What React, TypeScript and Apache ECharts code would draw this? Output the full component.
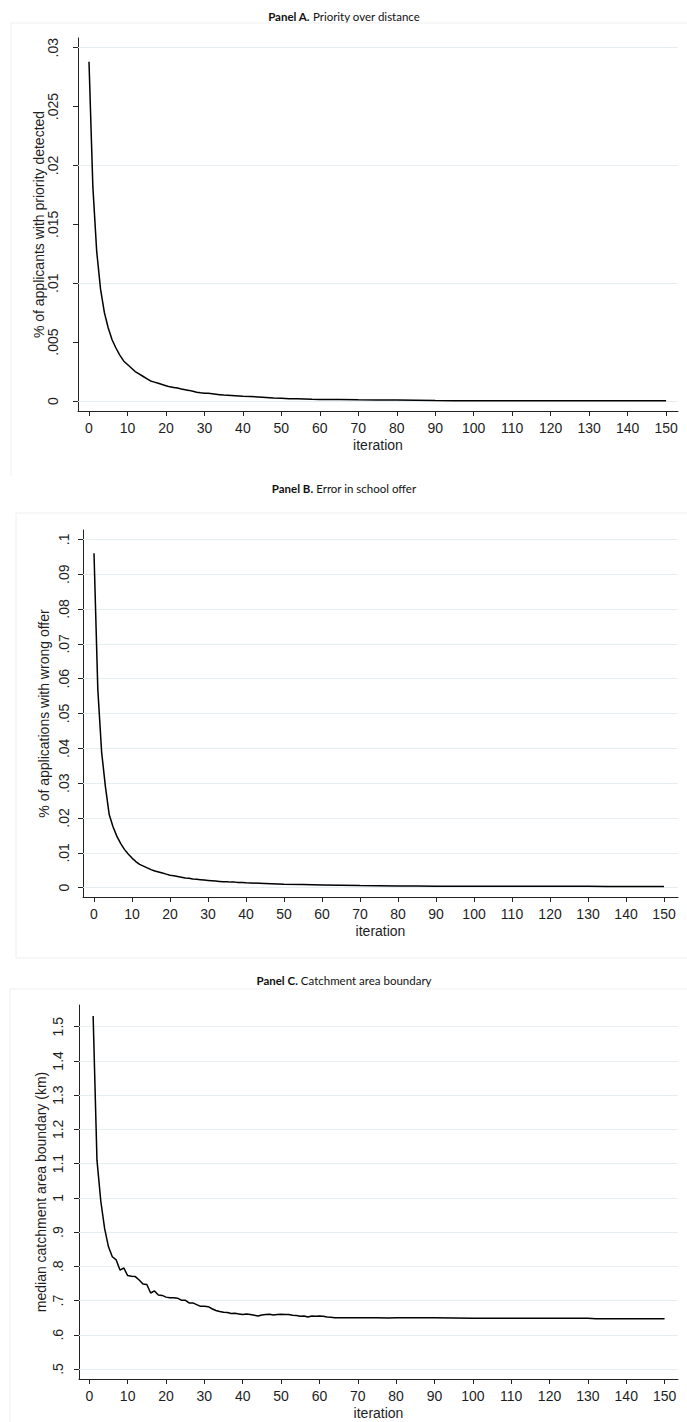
import React, { useEffect, useRef } from 'react';
import * as echarts from 'echarts';

// ---------- data ----------
const xTicks = [0, 10, 20, 30, 40, 50, 60, 70, 80, 90, 100, 110, 120, 130, 140, 150];

const yTicksA = [0, 0.005, 0.01, 0.015, 0.02, 0.025, 0.03];
const yTicksB = [0, 0.01, 0.02, 0.03, 0.04, 0.05, 0.06, 0.07, 0.08, 0.09, 0.1];
const yTicksC = [0.5, 0.6, 0.7, 0.8, 0.9, 1, 1.1, 1.2, 1.3, 1.4, 1.5];

const iterA = [
  0, 1, 2, 3, 4, 5, 6, 7, 8, 9, 10, 11, 12, 13, 14, 15, 16, 17, 18, 19, 20,
  21, 22, 23, 24, 25, 26, 27, 28, 29, 30, 31, 32, 33, 34, 35, 36, 37, 38, 39, 40,
  42, 44, 46, 48, 50, 52, 54, 56, 58, 60, 65, 70, 75, 80, 85, 90, 95, 100,
  105, 110, 115, 120, 125, 130, 135, 140, 145, 150,
];
const valA = [
  0.0288, 0.0182, 0.0127, 0.0095, 0.0075, 0.0062, 0.0052, 0.0045, 0.0039, 0.0034, 0.0031,
  0.0028, 0.0025, 0.0023, 0.0021, 0.0019, 0.0017, 0.0016, 0.0015, 0.0014, 0.0013,
  0.0012, 0.00115, 0.0011, 0.00102, 0.00096, 0.0009, 0.00082, 0.00074, 0.00069, 0.00066,
  0.00066, 0.00062, 0.00058, 0.00054, 0.0005, 0.00049, 0.00047, 0.00045, 0.00043, 0.00041,
  0.00038, 0.00034, 0.0003, 0.00026, 0.00023, 0.0002, 0.00018, 0.00016, 0.00014, 0.00013,
  0.00012, 0.0001, 0.00009, 0.00008, 0.00006, 0.00004, 0.00003, 0.00002,
  0.00002, 0.00002, 0.00001, 0.00001, 0.00001, 0.00001, 0.00001, 0.00001, 0.00001, 0.00001,
];

const iterB = [
  0, 1, 2, 3, 4, 5, 6, 7, 8, 9, 10, 11, 12, 13, 14, 15, 16, 17, 18, 19, 20,
  21, 22, 23, 24, 25, 26, 27, 28, 29, 30, 31, 32, 33, 34, 35, 36, 37, 38, 39, 40,
  45, 50, 55, 60, 65, 70, 75, 80, 85, 90, 95, 100, 105, 110, 115, 120, 125, 130,
  135, 140, 145, 150,
];
const valB = [
  0.096, 0.057, 0.039, 0.029, 0.021, 0.0175, 0.0148, 0.0127, 0.011, 0.0097, 0.0085,
  0.0075, 0.0067, 0.0062, 0.0057, 0.0052, 0.0048, 0.0045, 0.0042, 0.0039, 0.0036,
  0.0034, 0.0032, 0.003, 0.0028, 0.0027, 0.0025, 0.0024, 0.0023, 0.0022, 0.0021,
  0.002, 0.0019, 0.0018, 0.0017, 0.0017, 0.0016, 0.0016, 0.0015, 0.0015, 0.0014,
  0.0012, 0.001, 0.0009, 0.0008, 0.0007, 0.0006, 0.00058, 0.00052, 0.00048, 0.00045,
  0.00043, 0.00042, 0.00041, 0.0004, 0.0004, 0.0004, 0.0004, 0.0004,
  0.00037, 0.00036, 0.00035, 0.00035,
];

const iterC = [
  1, 2, 3, 4, 5, 6, 7, 8, 9, 10, 11, 12, 13, 14, 15, 16, 17, 18, 19, 20,
  21, 22, 23, 24, 25, 26, 27, 28, 29, 30, 31, 32, 33, 34, 35, 36, 37, 38, 39, 40,
  41, 42, 43, 44, 45, 46, 47, 48, 49, 50, 51, 52, 53, 54, 55, 56, 57, 58, 59, 60,
  61, 62, 63, 64, 65, 70, 75, 78, 80, 85, 90, 95, 100, 110, 120, 130, 132, 140, 150,
];
const valC = [
  1.531, 1.11, 0.99, 0.91, 0.857, 0.828, 0.819, 0.789, 0.795, 0.773,
  0.771, 0.77, 0.76, 0.748, 0.747, 0.722, 0.728, 0.716, 0.715, 0.71,
  0.708, 0.708, 0.707, 0.701, 0.701, 0.693, 0.693, 0.688, 0.683, 0.683,
  0.682, 0.676, 0.671, 0.668, 0.666, 0.665, 0.662, 0.663, 0.661, 0.659,
  0.661, 0.659, 0.657, 0.655, 0.658, 0.659, 0.66, 0.658, 0.659, 0.66,
  0.659, 0.659, 0.657, 0.656, 0.654, 0.655, 0.652, 0.655, 0.654, 0.655,
  0.654, 0.652, 0.651, 0.65, 0.65, 0.65, 0.65, 0.649, 0.65, 0.65, 0.65, 0.649, 0.648,
  0.648, 0.648, 0.648, 0.647, 0.647, 0.647,
];

const titles = [
  { bold: 'Panel A.', rest: 'Priority over distance' },
  { bold: 'Panel B.', rest: 'Error in school offer' },
  { bold: 'Panel C.', rest: 'Catchment area boundary' },
];
const yNames = [
  '% of applicants with priority detected',
  '% of applications with wrong offer',
  'median catchment area boundary (km)',
];
const xName = 'iteration';

// ---------- layout ----------
const FONT = '"Liberation Sans", Arial, Helvetica, sans-serif';
const TITLE_FONT = 'Lato, "Open Sans", sans-serif';
const AXIS_COLOR = '#222';
const TEXT_COLOR = '#1e1e1e';
const GRID_COLOR = '#e7eef2';

const panels = [
  { grid: { left: 78, top: 38, width: 600, height: 373 }, xMin: -2.86, xMax: 153.1, yMin: -0.00085, yMax: 0.030824, yTicks: yTicksA, ylMargin: 18, yNameGap: 32, titleY: 16 },
  { grid: { left: 83, top: 530, width: 595, height: 367 }, xMin: -2.895, xMax: 153.68, yMin: -0.00267, yMax: 0.10267, yTicks: yTicksB, ylMargin: 12, yNameGap: 32, titleY: 488 },
  { grid: { left: 79, top: 1005, width: 599, height: 374 }, xMin: -2.686, xMax: 153.5, yMin: 0.4708, yMax: 1.5633, yTicks: yTicksC, ylMargin: 14, yNameGap: 31, titleY: 980 },
];
const seriesData = [
  iterA.map((x, i) => [x, valA[i]]),
  iterB.map((x, i) => [x, valB[i]]),
  iterC.map((x, i) => [x, valC[i]]),
];

const fmt = (v: number) => {
  const s = String(+Number(v).toFixed(4));
  return s.replace(/^0\./, '.').replace(/^-0\./, '-.');
};

function buildOption() {
  const grid: any[] = [];
  const xAxis: any[] = [];
  const yAxis: any[] = [];
  const series: any[] = [];
  const graphic: any[] = [];

  panels.forEach((p, i) => {
    grid.push({ ...p.grid, containLabel: false, outerBoundsMode: 'none' });
    xAxis.push({
      type: 'value', gridIndex: i, min: p.xMin, max: p.xMax,
      axisLine: { show: true, onZero: false, lineStyle: { color: AXIS_COLOR, width: 1 } },
      axisTick: { show: true, length: 5, customValues: xTicks, lineStyle: { color: AXIS_COLOR } },
      axisLabel: { customValues: xTicks, margin: 10, color: TEXT_COLOR, fontSize: 14, fontFamily: FONT, formatter: (v: number) => fmt(v) },
      splitLine: { show: false },
      name: xName, nameLocation: 'middle', nameGap: 27, nameMoveOverlap: false,
      nameTextStyle: { color: TEXT_COLOR, fontSize: 14, fontFamily: FONT },
    });
    yAxis.push({
      type: 'value', gridIndex: i, min: p.yMin, max: p.yMax,
      axisLine: { show: true, onZero: false, lineStyle: { color: AXIS_COLOR, width: 1 } },
      axisTick: { show: true, length: 5, customValues: p.yTicks, lineStyle: { color: AXIS_COLOR } },
      axisLabel: { customValues: p.yTicks, rotate: 90, margin: p.ylMargin, color: TEXT_COLOR, fontSize: 14, fontFamily: FONT, formatter: (v: number) => fmt(v) },
      splitLine: { show: false },
      name: yNames[i], nameLocation: 'middle', nameGap: p.yNameGap, nameRotate: 90, nameMoveOverlap: false,
      nameTextStyle: { color: TEXT_COLOR, fontSize: 14, fontFamily: FONT },
    });
    series.push({
      type: 'line', xAxisIndex: i, yAxisIndex: i, data: seriesData[i],
      showSymbol: false, symbol: 'none', smooth: false, clip: false,
      lineStyle: { color: '#000', width: 1.5 },
      markLine: {
        silent: true, symbol: ['none', 'none'], z: 1,
        label: { show: false },
        lineStyle: { color: GRID_COLOR, width: 1.2, type: 'solid' },
        data: p.yTicks.map((v) => ({ yAxis: v })),
      },
    });
    graphic.push({
      type: 'text', x: 344, y: p.titleY,
      style: {
        text: `{b|${titles[i].bold}} ${titles[i].rest}`,
        fill: '#111', fontSize: 11.5, fontFamily: TITLE_FONT,
        align: 'center', verticalAlign: 'middle',
        rich: { b: { fontWeight: 'bold', fontSize: 11.5, fontFamily: TITLE_FONT, fill: '#111' } },
      },
    });
  });

  // faint panel frames
  const frame = { stroke: '#efefef', lineWidth: 1 };
  graphic.push(
    { type: 'polyline', silent: true, shape: { points: [[687, 23], [11, 23], [11, 476]] }, style: { ...frame, fill: null } },
    { type: 'polyline', silent: true, shape: { points: [[687, 513], [16, 513], [16, 958], [687, 958]] }, style: { ...frame, fill: null } },
    { type: 'polyline', silent: true, shape: { points: [[687, 989], [10, 989], [10, 1422]] }, style: { ...frame, fill: null } },
  );

  return {
    animation: false,
    backgroundColor: '#fff',
    grid, xAxis, yAxis, series, graphic,
  };
}

export default function App() {
  const ref = useRef<HTMLDivElement>(null);
  useEffect(() => {
    document.body.style.margin = '0';
    const chart = echarts.init(ref.current!, null, { renderer: 'svg' });
    chart.setOption(buildOption() as any);
    return () => chart.dispose();
  }, []);
  return (
    <div
      ref={ref}
      style={{ position: 'absolute', left: 0, top: 0, width: 687, height: 1422, background: '#fff' }}
    />
  );
}
